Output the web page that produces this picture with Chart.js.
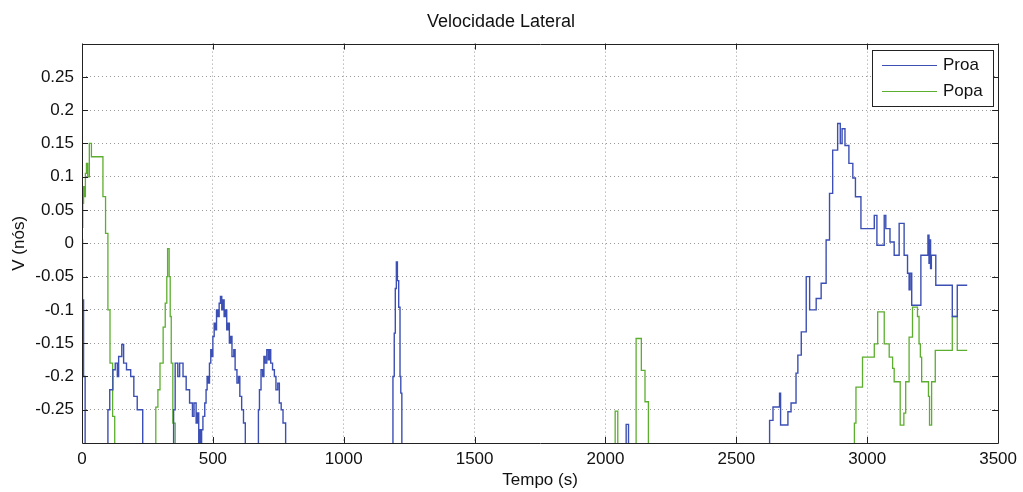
<!DOCTYPE html>
<html>
<head>
<meta charset="utf-8">
<script src="https://cdn.jsdelivr.net/npm/chart.js@4"></script>
<style>
  html, body { margin: 0; padding: 0; background: #fff; }
  #wrap { width: 1023px; height: 492px; }
</style>
</head>
<body>
<div id="wrap"><canvas id="chart" width="1023" height="492"></canvas></div>
<script>
'use strict';

// ===== データ =====
const xTicks = [0, 500, 1000, 1500, 2000, 2500, 3000, 3500];
const yTicks = [-0.25, -0.2, -0.15, -0.1, -0.05, 0, 0.05, 0.1, 0.15, 0.2, 0.25];

// Proa (azul) — tempo (s) / valor mantido até o próximo ponto
const proaT = [
  0, 2, 6, 12,
  99, 106, 118, 127, 135, 140, 152, 159, 170, 186, 198, 211, 232,
  350, 356, 366, 373, 386, 398, 411, 422, 428, 436, 441, 446,
  449, 453, 457, 462, 469, 474, 478, 483, 487, 492, 497, 500, 505, 510, 514, 519, 524, 529,
  534, 538, 543, 548, 553, 558, 563, 568, 573, 580, 585, 592, 598, 603, 610, 617, 624,
  674, 678, 684, 690, 695, 700, 706, 712, 716, 721, 728, 735, 741, 748, 754, 761, 768, 778,
  1188, 1193, 1197, 1201, 1205, 1210, 1215, 1218, 1222,
  2079, 2088,
  2627, 2640, 2665, 2669, 2697, 2709, 2728, 2735, 2748, 2767, 2780, 2805, 2824, 2843, 2856,
  2868, 2887, 2897, 2904, 2915, 2930, 2945, 2955, 2976, 3027, 3037, 3065, 3071, 3087, 3103,
  3122, 3141, 3154, 3160, 3164, 3170, 3205, 3232, 3236, 3239, 3242, 3245, 3262, 3325, 3344, 3382
];
const proaV = [
  0.005, -0.085, -0.2, -0.32,
  -0.25, -0.22, -0.19, -0.18, -0.2, -0.17, -0.152, -0.18, -0.19, -0.2, -0.23, -0.25, -0.32,
  -0.25, -0.18, -0.2, -0.18, -0.2, -0.22, -0.24, -0.26, -0.24, -0.27, -0.255, -0.32,
  -0.28, -0.32, -0.28, -0.26, -0.24, -0.22, -0.2, -0.21, -0.18, -0.16, -0.17, -0.14, -0.12, -0.13, -0.1, -0.11, -0.09, -0.08,
  -0.1, -0.085, -0.11, -0.1, -0.13, -0.12, -0.15, -0.14, -0.17, -0.16, -0.19, -0.21, -0.2, -0.23, -0.25, -0.27, -0.32,
  -0.25, -0.22, -0.19, -0.2, -0.17, -0.18, -0.16, -0.175, -0.16, -0.18, -0.19, -0.2, -0.22, -0.21, -0.24, -0.25, -0.27, -0.32,
  -0.2, -0.135, -0.068, -0.028, -0.056, -0.096, -0.2, -0.225, -0.32,
  -0.272, -0.32,
  -0.266, -0.246, -0.225, -0.273, -0.253, -0.24, -0.195, -0.168, -0.133, -0.05, -0.1, -0.083, -0.06, 0.005, 0.075,
  0.14, 0.18, 0.15, 0.172, 0.147, 0.12, 0.098, 0.07, 0.022, 0.042, -0.003, 0.042, 0.022, 0.002, -0.018,
  0.03, -0.018, -0.045, -0.07, -0.045, -0.093, -0.018, 0.012, -0.03, 0.005, -0.038, -0.018, -0.063, -0.11, -0.063, -0.063
];

// Popa (verde)
const popaT = [
  0, 3, 6, 10, 13, 17, 22, 28, 36, 80, 90, 99, 107, 117, 125,
  282, 290, 298, 310, 318, 324, 327, 333, 337, 341, 347, 356,
  2037, 2047,
  2117, 2137, 2151, 2164,
  2951, 2957, 2982, 3027, 3040, 3065, 3084, 3097, 3103, 3126, 3140, 3147, 3160, 3173,
  3192, 3198, 3203, 3208, 3234, 3238, 3246, 3260, 3325, 3344, 3382
];
const popaV = [
  0.024, 0.06, 0.085, 0.07, 0.105, 0.12, 0.1, 0.15, 0.13, 0.07, 0.015, -0.1, -0.18, -0.26, -0.32,
  -0.246, -0.22, -0.18, -0.126, -0.09, -0.05, -0.008, -0.05, -0.11, -0.18, -0.27, -0.32,
  -0.252, -0.32,
  -0.143, -0.191, -0.238, -0.32,
  -0.27, -0.216, -0.171, -0.151, -0.103, -0.151, -0.171, -0.188, -0.208, -0.273, -0.255, -0.208, -0.141, -0.096,
  -0.11, -0.151, -0.171, -0.208, -0.23, -0.273, -0.208, -0.161, -0.11, -0.161, -0.161
];

const FONT = 'Arial, "Liberation Sans", sans-serif';

function toPoints(ts, vs) {
  return ts.map((t, i) => ({ x: t, y: vs[i] }));
}

// ===== 枠・内側目盛り・凡例 =====
const boxPlugin = {
  id: 'box',
  afterDraw(chart) {
    const { ctx, chartArea: a, scales } = chart;
    ctx.save();
    ctx.strokeStyle = '#222';
    ctx.lineWidth = 1;
    ctx.beginPath();
    ctx.rect(Math.round(a.left) + 0.5, Math.round(a.top) + 0.5,
             Math.round(a.right - a.left), Math.round(a.bottom - a.top));
    ctx.stroke();

    // 内側の目盛り
    ctx.beginPath();
    scales.x.ticks.forEach(t => {
      const px = Math.round(scales.x.getPixelForValue(t.value)) + 0.5;
      ctx.moveTo(px, a.bottom); ctx.lineTo(px, a.bottom - 6);
      ctx.moveTo(px, a.top); ctx.lineTo(px, a.top + 6);
    });
    scales.y.ticks.forEach(t => {
      const py = Math.round(scales.y.getPixelForValue(t.value)) + 0.5;
      ctx.moveTo(a.left, py); ctx.lineTo(a.left + 6, py);
      ctx.moveTo(a.right, py); ctx.lineTo(a.right - 6, py);
    });
    ctx.stroke();

    // 凡例
    const lx = 872, ly = 50, lw = 121, lh = 56;
    ctx.fillStyle = '#fff';
    ctx.fillRect(lx, ly, lw, lh);
    ctx.strokeStyle = '#222';
    ctx.strokeRect(lx + 0.5, ly + 0.5, lw, lh);
    ctx.font = '17px ' + FONT;
    ctx.textBaseline = 'middle';
    chart.data.datasets.forEach((ds, i) => {
      const y = ly + 15 + i * 26;
      ctx.strokeStyle = ds.borderColor;
      ctx.lineWidth = 1.2;
      ctx.beginPath();
      ctx.moveTo(882, y + 0.5); ctx.lineTo(937, y + 0.5);
      ctx.stroke();
      ctx.fillStyle = '#111';
      ctx.fillText(ds.label, 943, y);
    });
    ctx.restore();
  }
};

new Chart(document.getElementById('chart'), {
  type: 'line',
  data: {
    datasets: [
      {
        label: 'Proa',
        data: toPoints(proaT, proaV),
        borderColor: '#3b4fb4',
        borderWidth: 1.4,
        stepped: true,
        pointRadius: 0,
        fill: false,
      },
      {
        label: 'Popa',
        data: toPoints(popaT, popaV),
        borderColor: '#5cae2e',
        borderWidth: 1.3,
        stepped: true,
        pointRadius: 0,
        fill: false,
      },
    ],
  },
  options: {
    responsive: false,
    animation: false,
    layout: { padding: { left: 0, right: 21, top: 0, bottom: 0 } },
    plugins: {
      legend: { display: false },
      tooltip: { enabled: false },
      title: {
        display: true,
        text: 'Velocidade Lateral',
        color: '#111',
        font: { family: FONT, size: 18, weight: 'normal' },
        padding: { top: 11, bottom: 11 },
      },
    },
    scales: {
      x: {
        type: 'linear',
        min: 0,
        max: 3500,
        afterBuildTicks: s => { s.ticks = xTicks.map(v => ({ value: v })); },
        afterFit: s => { s.height = 49; },
        border: { display: false, dash: [1, 3] },
        grid: { color: '#9a9a9a', drawTicks: false },
        ticks: { color: '#111', padding: 6, font: { family: FONT, size: 17 }, callback: v => String(v) },
        title: {
          display: true,
          text: 'Tempo (s)',
          color: '#111',
          font: { family: FONT, size: 17 },
          padding: { top: 0, bottom: 1 },
        },
      },
      y: {
        min: -0.3,
        max: 0.3,
        afterBuildTicks: s => { s.ticks = yTicks.map(v => ({ value: v })); },
        afterFit: s => { s.width = 82; },
        border: { display: false, dash: [1, 3] },
        grid: { color: '#9a9a9a', drawTicks: false },
        ticks: { color: '#111', padding: 8, font: { family: FONT, size: 17 }, callback: v => String(v) },
        title: {
          display: true,
          text: 'V (nós)',
          color: '#111',
          font: { family: FONT, size: 17 },
          padding: { top: 9, bottom: 0 },
        },
      },
    },
  },
  plugins: [boxPlugin],
});
</script>
</body>
</html>
